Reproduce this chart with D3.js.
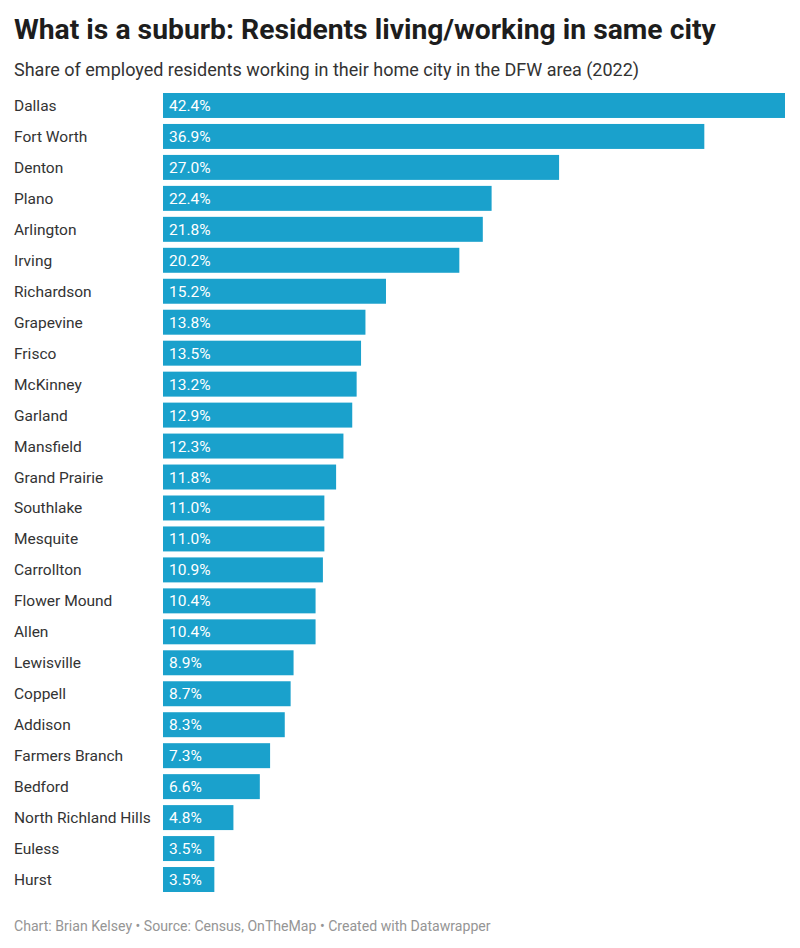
<!DOCTYPE html>
<html>
<head>
<meta charset="utf-8">
<script src="https://cdn.jsdelivr.net/npm/d3@7"></script>
<style>
  body { margin: 0; background: #fff; }
</style>
</head>
<body>
<div id="chart"></div>
<script>
// data
const cities = ["Dallas", "Fort Worth", "Denton", "Plano", "Arlington", "Irving",
    "Richardson", "Grapevine", "Frisco", "McKinney", "Garland", "Mansfield",
    "Grand Prairie", "Southlake", "Mesquite", "Carrollton", "Flower Mound", "Allen",
    "Lewisville", "Coppell", "Addison", "Farmers Branch", "Bedford",
    "North Richland Hills", "Euless", "Hurst"];
const shares = [42.4, 36.9, 27.0, 22.4, 21.8, 20.2, 15.2, 13.8, 13.5, 13.2, 12.9, 12.3,
    11.8, 11.0, 11.0, 10.9, 10.4, 10.4, 8.9, 8.7, 8.3, 7.3, 6.6, 4.8, 3.5, 3.5];

const width = 800, height = 948;
const font = "Roboto, 'Noto Sans', sans-serif";

const svg = d3.select("#chart").append("svg")
    .attr("width", width)
    .attr("height", height);

// title + subtitle
svg.append("text")
    .attr("x", 14)
    .attr("y", 39)
    .attr("font-family", font)
    .attr("font-size", "28.3px")
    .attr("font-weight", "bold")
    .attr("fill", "#1d1d1d")
    .text("What is a suburb: Residents living/working in same city");

svg.append("text")
    .attr("x", 14)
    .attr("y", 76)
    .attr("font-family", font)
    .attr("font-size", "18px")
    .attr("fill", "#333")
    .text("Share of employed residents working in their home city in the DFW area (2022)");

// scales
const x = d3.scaleLinear()
    .domain([0, d3.max(shares)])
    .range([163, 785]);

const y = d3.scaleBand()
    .domain(cities)
    .range([93, 892])
    .paddingInner(6 / 31)
    .paddingOuter(0);

const rows = svg.append("g")
    .selectAll("g")
    .data(cities)
    .join("g");

rows.append("rect")
    .attr("x", x(0))
    .attr("y", d => y(d))
    .attr("width", (d, i) => x(shares[i]) - x(0))
    .attr("height", y.bandwidth())
    .attr("fill", "#1aa1cc");

rows.append("text")
    .attr("x", 14)
    .attr("y", d => y(d) + y.bandwidth() / 2 + 5.5)
    .attr("font-family", font)
    .attr("font-size", "15.5px")
    .attr("fill", "#333")
    .text(d => d);

rows.append("text")
    .attr("x", x(0) + 6)
    .attr("y", d => y(d) + y.bandwidth() / 2 + 5.5)
    .attr("font-family", font)
    .attr("font-size", "15.5px")
    .attr("fill", "#fff")
    .text((d, i) => shares[i].toFixed(1) + "%");

// footer
svg.append("text")
    .attr("x", 14)
    .attr("y", 931)
    .attr("font-family", font)
    .attr("font-size", "14.1px")
    .attr("fill", "#959595")
    .text("Chart: Brian Kelsey \u2022 Source: Census, OnTheMap \u2022 Created with Datawrapper");
</script>
</body>
</html>
